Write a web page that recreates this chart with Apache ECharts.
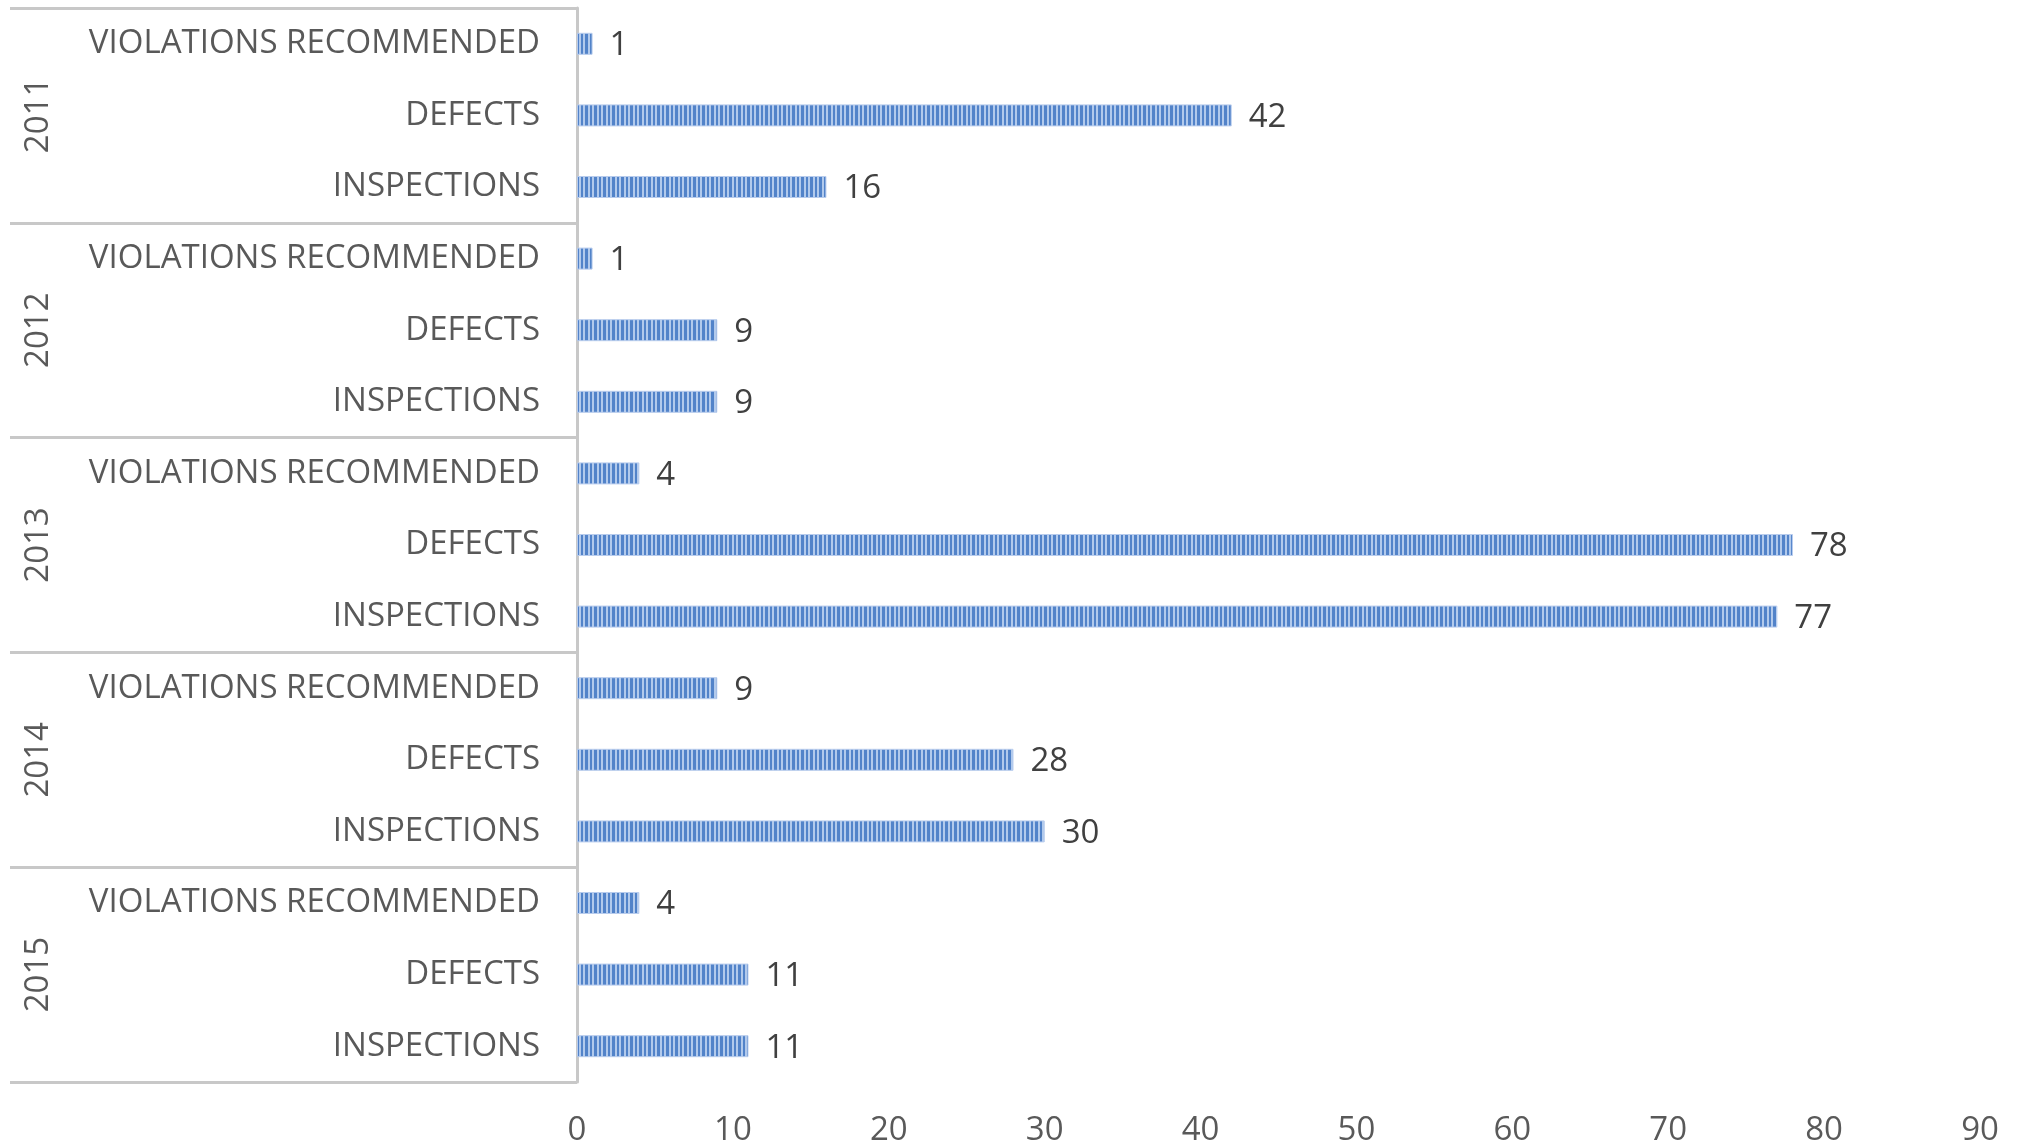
<!DOCTYPE html>
<html>
<head>
<meta charset="utf-8">
<title>Inspections, defects and violations by year</title>
<script src="https://cdn.jsdelivr.net/npm/echarts@6/dist/echarts.min.js"></script>
<style>
  html, body { margin: 0; padding: 0; background: #ffffff; }
  #chart { width: 2026px; height: 1144px; }
</style>
</head>
<body>
<div id="chart"></div>
<script>
// Year groups (outer category level) and the measures within each year (inner level)
const years = ['2011', '2012', '2013', '2014', '2015'];
const measures = ['VIOLATIONS RECOMMENDED', 'DEFECTS', 'INSPECTIONS'];

// Counts per year, in the order of `measures`
const values2011 = [1, 42, 16];
const values2012 = [1, 9, 9];
const values2013 = [4, 78, 77];
const values2014 = [9, 28, 30];
const values2015 = [4, 11, 11];

// Value axis ticks
const xTicks = [0, 10, 20, 30, 40, 50, 60, 70, 80, 90];

const valuesByYear = [values2011, values2012, values2013, values2014, values2015];
const categories = [];
const counts = [];
years.forEach((y, i) => {
  measures.forEach((m, j) => {
    categories.push(y + '|' + m);
    counts.push(valuesByYear[i][j]);
  });
});

// Narrow vertical stripe fill for the bars
function stripePattern() {
  const c = document.createElement('canvas');
  c.width = 9; c.height = 4;
  const g = c.getContext('2d');
  g.fillStyle = '#b2caec';
  g.fillRect(0, 0, 9, 4);
  g.fillStyle = '#5283c9';
  g.fillRect(0, 0, 3, 4);
  g.fillRect(5, 0, 2, 4);
  return c;
}

const FONT = "'Open Sans', sans-serif";
const FONT_SIZE = 33;
const GRID_LINE = '#c8c8c8';

const chart = echarts.init(document.getElementById('chart'), null, { renderer: 'canvas' });
chart.setOption({
  animation: false,
  backgroundColor: '#ffffff',
  grid: {
    left: 577, right: 46, top: 8, bottom: 62,
    containLabel: false,
    outerBoundsMode: 'none'
  },
  xAxis: {
    type: 'value',
    min: xTicks[0],
    max: xTicks[xTicks.length - 1],
    interval: xTicks[1] - xTicks[0],
    axisLine: { show: false },
    axisTick: { show: false },
    splitLine: { show: false },
    axisLabel: { color: '#595959', fontSize: FONT_SIZE, fontFamily: FONT, margin: 32 }
  },
  yAxis: [
    {
      type: 'category',
      data: categories,
      inverse: true,
      axisLine: { show: true, lineStyle: { color: GRID_LINE, width: 3 } },
      axisTick: { show: false },
      axisLabel: {
        color: '#595959', fontSize: FONT_SIZE, fontFamily: FONT, margin: 37,
        formatter: v => v.split('|')[1]
      }
    },
    {
      type: 'category',
      data: years,
      inverse: true,
      position: 'left',
      axisLine: { show: false },
      axisTick: { show: true, length: 567, lineStyle: { color: GRID_LINE, width: 3 } },
      axisLabel: {
        color: '#595959', fontSize: FONT_SIZE, fontFamily: FONT, rotate: 90, margin: 522
      }
    }
  ],
  series: [{
    type: 'bar',
    yAxisIndex: 0,
    data: counts,
    barWidth: 22,
    itemStyle: {
      color: { image: stripePattern(), repeat: 'repeat' },
      borderColor: '#b8cced',
      borderWidth: 1
    },
    label: {
      show: true,
      position: 'right',
      distance: 17,
      offset: [0, 2],
      color: '#404040',
      fontSize: FONT_SIZE,
      fontFamily: FONT
    }
  }]
});
</script>
</body>
</html>
